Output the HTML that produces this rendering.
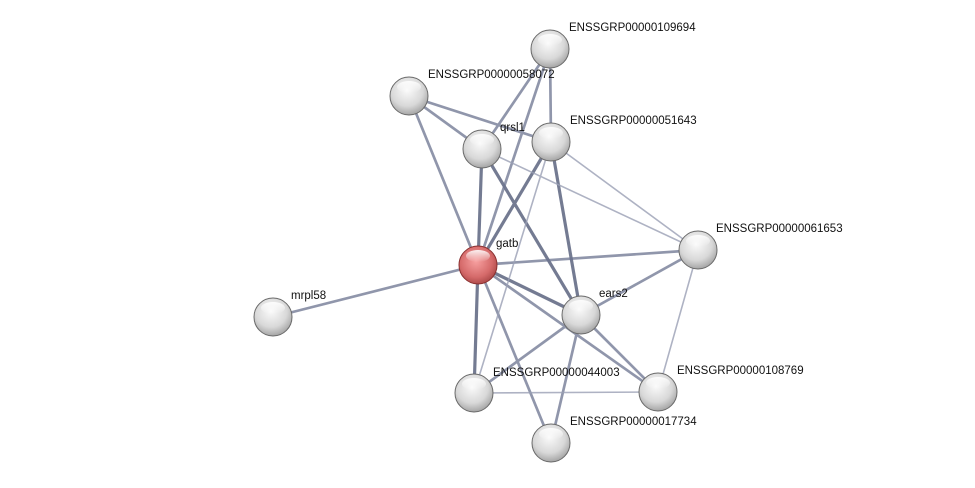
<!DOCTYPE html>
<html><head><meta charset="utf-8"><style>
html,body{margin:0;padding:0;background:#fff;}
svg{display:block;}
text{font-family:"Liberation Sans",sans-serif;font-size:11.5px;fill:#111;}
</style></head><body>
<svg width="975" height="488" viewBox="0 0 975 488" xmlns="http://www.w3.org/2000/svg">
<defs>
<radialGradient id="g" cx="0.45" cy="0.35" r="0.7">
<stop offset="0" stop-color="#fafafa"/><stop offset="0.6" stop-color="#d8d8d8"/><stop offset="1" stop-color="#9a9a9a"/>
</radialGradient>
<radialGradient id="r" cx="0.45" cy="0.4" r="0.7">
<stop offset="0" stop-color="#f7a0a0"/><stop offset="0.6" stop-color="#d56a6a"/><stop offset="1" stop-color="#9a3a3a"/>
</radialGradient>
<linearGradient id="h" x1="0" y1="0" x2="0" y2="1">
<stop offset="0" stop-color="#fff" stop-opacity="0.9"/><stop offset="1" stop-color="#fff" stop-opacity="0"/>
</linearGradient>
</defs>
<g stroke-linecap="round">
<g stroke="#5c6580" stroke-width="3.2" opacity="0.85">
<line x1="478" y1="265" x2="482" y2="149"/>
<line x1="478" y1="265" x2="581" y2="315"/>
<line x1="478" y1="265" x2="474" y2="393"/>
<line x1="482" y1="149" x2="581" y2="315"/>
<line x1="551" y1="142" x2="581" y2="315"/>
<line x1="478" y1="265" x2="551" y2="142"/>
</g>
<g stroke="#6b7390" stroke-width="2.7" opacity="0.75">
<line x1="478" y1="265" x2="409" y2="96"/>
<line x1="478" y1="265" x2="550" y2="49"/>
<line x1="478" y1="265" x2="698" y2="250"/>
<line x1="478" y1="265" x2="273" y2="317"/>
<line x1="478" y1="265" x2="658" y2="392"/>
<line x1="478" y1="265" x2="551" y2="443"/>
<line x1="409" y1="96" x2="482" y2="149"/>
<line x1="409" y1="96" x2="551" y2="142"/>
<line x1="550" y1="49" x2="482" y2="149"/>
<line x1="550" y1="49" x2="551" y2="142"/>
<line x1="581" y1="315" x2="698" y2="250"/>
<line x1="581" y1="315" x2="474" y2="393"/>
<line x1="581" y1="315" x2="658" y2="392"/>
<line x1="581" y1="315" x2="551" y2="443"/>
</g>
<g stroke="#9aa0b5" stroke-width="1.6" opacity="0.8">
<line x1="551" y1="142" x2="698" y2="250"/>
<line x1="482" y1="149" x2="698" y2="250"/>
<line x1="551" y1="142" x2="474" y2="393"/>
<line x1="698" y1="250" x2="658" y2="392"/>
<line x1="474" y1="393" x2="658" y2="392"/>
</g>
</g>
<g stroke="#6a6a6a" stroke-width="1">
<circle cx="550" cy="49" r="19" fill="url(#g)"/>
<circle cx="409" cy="96" r="19" fill="url(#g)"/>
<circle cx="482" cy="149" r="19" fill="url(#g)"/>
<circle cx="551" cy="142" r="19" fill="url(#g)"/>
<circle cx="698" cy="250" r="19" fill="url(#g)"/>
<circle cx="478" cy="265" r="19" fill="url(#r)" stroke="#8a3030"/>
<circle cx="273" cy="317" r="19" fill="url(#g)"/>
<circle cx="581" cy="315" r="19" fill="url(#g)"/>
<circle cx="474" cy="393" r="19" fill="url(#g)"/>
<circle cx="658" cy="392" r="19" fill="url(#g)"/>
<circle cx="551" cy="443" r="19" fill="url(#g)"/>
</g>
<g fill="url(#h)">
<ellipse cx="550" cy="40" rx="12" ry="6"/><ellipse cx="409" cy="87" rx="12" ry="6"/>
<ellipse cx="482" cy="140" rx="12" ry="6"/><ellipse cx="551" cy="133" rx="12" ry="6"/>
<ellipse cx="698" cy="241" rx="12" ry="6"/><ellipse cx="478" cy="256" rx="12" ry="6"/>
<ellipse cx="273" cy="308" rx="12" ry="6"/><ellipse cx="581" cy="306" rx="12" ry="6"/>
<ellipse cx="474" cy="384" rx="12" ry="6"/><ellipse cx="658" cy="383" rx="12" ry="6"/>
<ellipse cx="551" cy="434" rx="12" ry="6"/>
</g>
<text x="569" y="31">ENSSGRP00000109694</text>
<text x="428" y="78">ENSSGRP00000058072</text>
<text x="500" y="131">qrsl1</text>
<text x="570" y="124">ENSSGRP00000051643</text>
<text x="716" y="232">ENSSGRP00000061653</text>
<text x="496" y="247">gatb</text>
<text x="291" y="299">mrpl58</text>
<text x="599" y="297">ears2</text>
<text x="493" y="376">ENSSGRP00000044003</text>
<text x="677" y="374">ENSSGRP00000108769</text>
<text x="570" y="425">ENSSGRP00000017734</text>
</svg>
</body></html>
